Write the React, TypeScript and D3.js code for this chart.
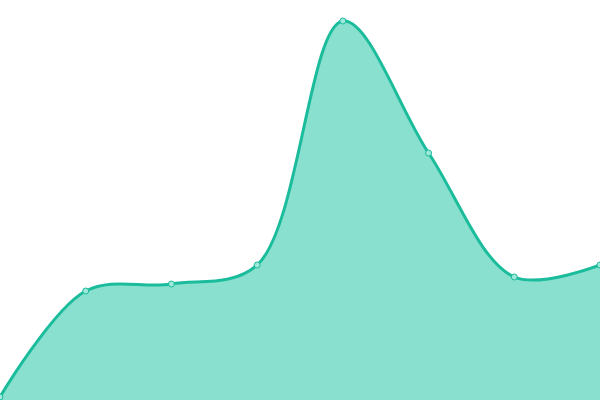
import { useMemo } from 'react';
import * as d3 from 'd3';

// ─── Data ───────────────────────────────────────────────────

const CATEGORIES = ['A', 'B', 'C', 'D', 'E', 'F', 'G', 'H'];
const VALUES = [3, 109, 116, 135, 379, 247, 123, 135];

// ─── Constants ──────────────────────────────────────────────

const WIDTH = 600;
const HEIGHT = 400;
const STROKE = '#1abc9c';
const FILL = '#89e0cf';

export default function App() {
  const { areaPath, linePath, pts } = useMemo(() => {
    const x = d3.scalePoint<string>().domain(CATEGORIES).range([0, WIDTH]);
    const y = d3.scaleLinear().domain([0, 400]).range([HEIGHT, 0]);
    const curve = d3.curveCatmullRom.alpha(0.5);
    const data = CATEGORIES.map((c, i) => ({ c, v: VALUES[i] }));
    const area = d3.area<{ c: string; v: number }>()
      .x((d) => x(d.c)!)
      .y0(HEIGHT)
      .y1((d) => y(d.v))
      .curve(curve);
    const line = d3.line<{ c: string; v: number }>()
      .x((d) => x(d.c)!)
      .y((d) => y(d.v))
      .curve(curve);
    return {
      areaPath: area(data) ?? '',
      linePath: line(data) ?? '',
      pts: data.map((d) => ({ cx: x(d.c)!, cy: y(d.v) })),
    };
  }, []);

  return (
    <div style={{ position: 'fixed', left: 0, top: 0 }}>
      <svg width={WIDTH} height={HEIGHT} style={{ display: 'block' }}>
        <path d={areaPath} fill={FILL} />
        <path d={linePath} fill="none" stroke={STROKE} strokeWidth={3} />
        {pts.map((p, i) => (
          <circle key={i} cx={p.cx} cy={p.cy} r={3} fill="#9fe8d9" stroke={STROKE} strokeWidth={1} />
        ))}
      </svg>
    </div>
  );
}
